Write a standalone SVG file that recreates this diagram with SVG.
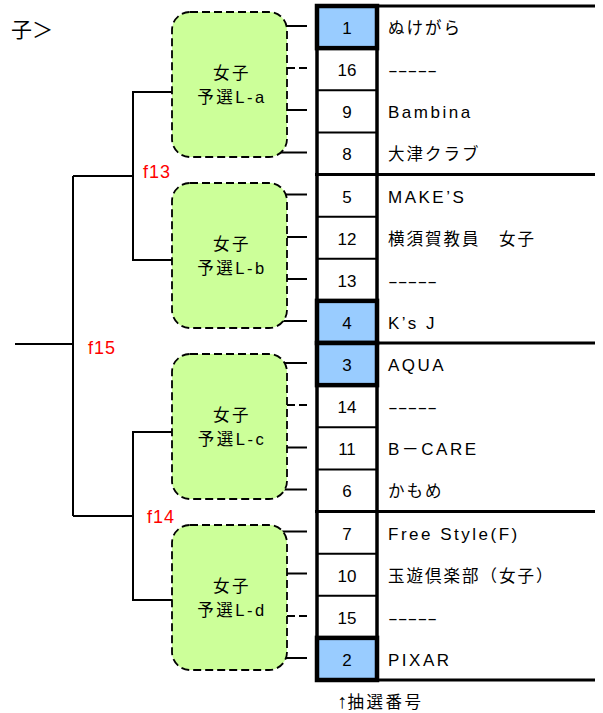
<svg xmlns="http://www.w3.org/2000/svg" width="603" height="713" viewBox="0 0 603 713">
<style>
text{font-family:"Liberation Sans","Noto Sans CJK JP",sans-serif;fill:#000}
.hd{font-size:21px}
.no{font-size:17px;text-anchor:middle}
.nm{font-size:17px;letter-spacing:2.5px}
.nj{font-size:16.5px;letter-spacing:2px}
.ds{font-size:16px}
.bx{font-size:16.5px;letter-spacing:2.5px;text-anchor:middle}
.f{font-size:18px;letter-spacing:1px;fill:#FF0000}
.ft{font-size:16.5px;letter-spacing:2.5px}
.ar{font-size:20px;letter-spacing:0.5px}
.box{fill:#CCFF99;stroke:#000;stroke-width:1.8;stroke-dasharray:8 4}
.ln{fill:none;stroke:#000;stroke-width:2}
.dl{fill:none;stroke:#000;stroke-width:2;stroke-dasharray:8 4}
.thin{stroke:#000;stroke-width:2}
.thick{stroke:#000;stroke-width:3}
.vert{stroke:#000;stroke-width:3.5}
.hl{fill:#99CCFF;stroke:#000;stroke-width:4.5}
</style>

<text class="hd" x="11" y="37">子＞</text>

<g id="connectors">
  <path class="ln" d="M172,92 H133 V260 H172"/>
  <path class="ln" d="M133,176 H73"/>
  <path class="ln" d="M172,432 H133 V600 H172"/>
  <path class="ln" d="M133,516 H73"/>
  <path class="ln" d="M73,176 V516"/>
  <path class="ln" d="M15,344 H73"/>
  <path class="ln" d="M280,26 H307"/>
  <path class="dl" d="M287,68 H307"/>
  <path class="ln" d="M280,110 H307"/>
  <path class="ln" d="M280,152.5 H307"/>
  <path class="ln" d="M280,194.5 H307"/>
  <path class="ln" d="M280,237 H307"/>
  <path class="ln" d="M280,279 H307"/>
  <path class="ln" d="M280,321 H307"/>
  <path class="ln" d="M280,363 H307"/>
  <path class="dl" d="M287,405 H307"/>
  <path class="ln" d="M280,447.5 H307"/>
  <path class="ln" d="M280,489.5 H307"/>
  <path class="ln" d="M280,531.5 H307"/>
  <path class="ln" d="M280,573.5 H307"/>
  <path class="dl" d="M287,616 H307"/>
  <path class="ln" d="M280,658 H307"/>
</g>

<g id="f-labels">
  <text class="f" x="143" y="178">f13</text>
  <text class="f" x="88" y="354">f15</text>
  <text class="f" x="147" y="523">f14</text>
</g>

<g id="group-La">
  <rect class="box" x="172" y="12" width="115" height="145" rx="18" ry="18"/>
  <text class="bx" x="232" y="78.5">女子</text>
  <text class="bx" x="232" y="102.5">予選L-a</text>
</g>
<g id="group-Lb">
  <rect class="box" x="172" y="183" width="115" height="145" rx="18" ry="18"/>
  <text class="bx" x="232" y="249.5">女子</text>
  <text class="bx" x="232" y="273.5">予選L-b</text>
</g>
<g id="group-Lc">
  <rect class="box" x="172" y="354" width="115" height="145" rx="18" ry="18"/>
  <text class="bx" x="232" y="420.5">女子</text>
  <text class="bx" x="232" y="444.5">予選L-c</text>
</g>
<g id="group-Ld">
  <rect class="box" x="172" y="525" width="115" height="145" rx="18" ry="18"/>
  <text class="bx" x="232" y="591.5">女子</text>
  <text class="bx" x="232" y="615.5">予選L-d</text>
</g>

<g id="table">
  <g id="row-lines">
    <line class="thin" x1="317" y1="48.13" x2="377" y2="48.13"/>
    <line class="thin" x1="317" y1="90.25" x2="377" y2="90.25"/>
    <line class="thin" x1="317" y1="132.38" x2="377" y2="132.38"/>
    <line class="thin" x1="317" y1="216.63" x2="377" y2="216.63"/>
    <line class="thin" x1="317" y1="258.75" x2="377" y2="258.75"/>
    <line class="thin" x1="317" y1="300.88" x2="377" y2="300.88"/>
    <line class="thin" x1="317" y1="385.13" x2="377" y2="385.13"/>
    <line class="thin" x1="317" y1="427.25" x2="377" y2="427.25"/>
    <line class="thin" x1="317" y1="469.38" x2="377" y2="469.38"/>
    <line class="thin" x1="317" y1="553.63" x2="377" y2="553.63"/>
    <line class="thin" x1="317" y1="595.75" x2="377" y2="595.75"/>
    <line class="thin" x1="317" y1="637.88" x2="377" y2="637.88"/>
    <line class="thick" x1="315" y1="6" x2="595" y2="6"/>
    <line class="thick" x1="315" y1="174.5" x2="595" y2="174.5"/>
    <line class="thick" x1="315" y1="343" x2="595" y2="343"/>
    <line class="thick" x1="315" y1="511.5" x2="595" y2="511.5"/>
    <line class="thick" x1="315" y1="680" x2="595" y2="680"/>
    <line class="vert" x1="317" y1="6" x2="317" y2="680"/>
    <line class="vert" x1="377" y1="6" x2="377" y2="680"/>
  </g>
  <g id="highlights">
    <rect class="hl" x="317" y="6" width="60" height="42.13"/>
    <rect class="hl" x="317" y="300.88" width="60" height="42.12"/>
    <rect class="hl" x="317" y="343" width="60" height="42.13"/>
    <rect class="hl" x="317" y="637.88" width="60" height="42.12"/>
  </g>
  <g id="entry-1"><text class="no" x="347" y="34.1">1</text><text class="nj" x="388" y="34.1">ぬけがら</text></g>
  <g id="entry-16"><text class="no" x="347" y="76.2">16</text><text class="ds" x="388" y="76.2" textLength="49" lengthAdjust="spacingAndGlyphs">-----</text></g>
  <g id="entry-9"><text class="no" x="347" y="118.3">9</text><text class="nm" x="388" y="118.3">Bambina</text></g>
  <g id="entry-8"><text class="no" x="347" y="160.4">8</text><text class="nj" x="388" y="160.4">大津クラブ</text></g>
  <g id="entry-5"><text class="no" x="347" y="202.6">5</text><text class="nm" x="388" y="202.6">MAKE’S</text></g>
  <g id="entry-12"><text class="no" x="347" y="244.7">12</text><text class="nj" x="388" y="244.7">横須賀教員　女子</text></g>
  <g id="entry-13"><text class="no" x="347" y="286.8">13</text><text class="ds" x="388" y="286.8" textLength="49" lengthAdjust="spacingAndGlyphs">-----</text></g>
  <g id="entry-4"><text class="no" x="347" y="328.9">4</text><text class="nm" x="388" y="328.9">K’s J</text></g>
  <g id="entry-3"><text class="no" x="347" y="371.1">3</text><text class="nm" x="388" y="371.1">AQUA</text></g>
  <g id="entry-14"><text class="no" x="347" y="413.2">14</text><text class="ds" x="388" y="413.2" textLength="49" lengthAdjust="spacingAndGlyphs">-----</text></g>
  <g id="entry-11"><text class="no" x="347" y="455.3">11</text><text class="nm" x="388" y="455.3">B－CARE</text></g>
  <g id="entry-6"><text class="no" x="347" y="497.4">6</text><text class="nj" x="388" y="497.4">かもめ</text></g>
  <g id="entry-7"><text class="no" x="347" y="539.6">7</text><text class="nm" x="388" y="539.6">Free Style(F)</text></g>
  <g id="entry-10"><text class="no" x="347" y="581.7">10</text><text class="nj" x="388" y="581.7">玉遊倶楽部（女子）</text></g>
  <g id="entry-15"><text class="no" x="347" y="623.8">15</text><text class="ds" x="388" y="623.8" textLength="49" lengthAdjust="spacingAndGlyphs">-----</text></g>
  <g id="entry-2"><text class="no" x="347" y="665.9">2</text><text class="nm" x="388" y="665.9">PIXAR</text></g>
</g>

<text class="ft" x="337" y="708"><tspan class="ar">↑</tspan>抽選番号</text>
</svg>
